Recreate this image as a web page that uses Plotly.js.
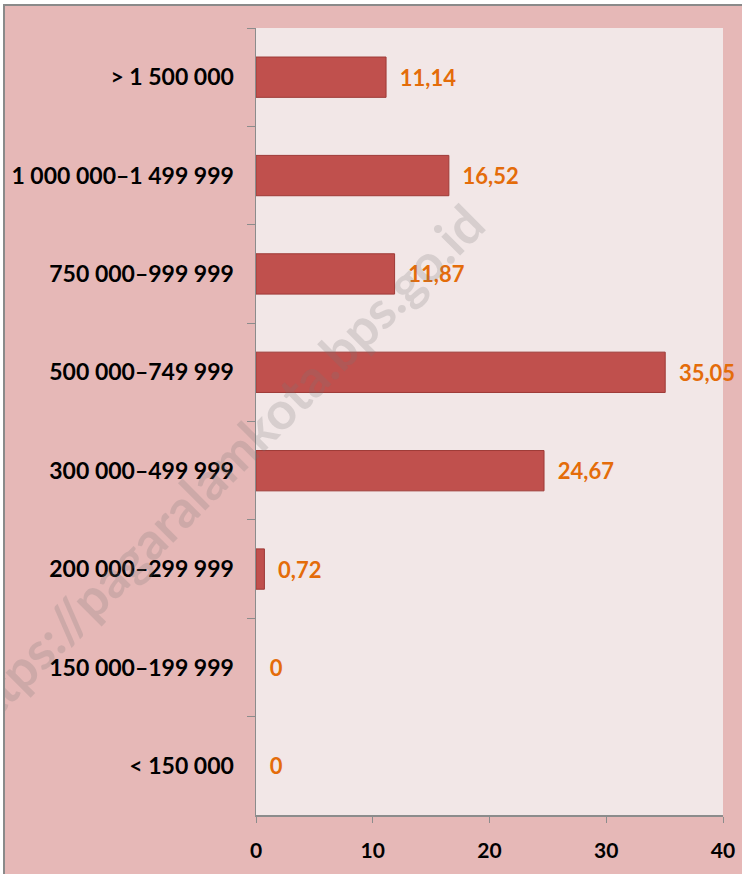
<!DOCTYPE html>
<html>
<head>
<meta charset="utf-8">
<script src="https://cdn.plot.ly/plotly-3.0.1.min.js"></script>
<style>
html,body{margin:0;padding:0;background:#ffffff;width:742px;height:874px;overflow:hidden;}
#chart{position:absolute;left:3px;top:4px;width:739px;height:870px;border-left:2px solid #8a8a8a;border-top:2px solid #8a8a8a;}
</style>
</head>
<body>
<div id="chart"></div>
<script>
var categories = ["> 1 500 000", "1 000 000\u20131 499 999", "750 000\u2013999 999", "500 000\u2013749 999", "300 000\u2013499 999", "200 000\u2013299 999", "150 000\u2013199 999", "< 150 000"];
var values = [11.14, 16.52, 11.87, 35.05, 24.67, 0.72, 0, 0];
var xTicks = [0, 10, 20, 30, 40];
var watermark = "https://pagaralamkota.bps.go.id";

var labels = values.map(function(v){ return "\u00a0\u00a0" + String(v).replace(".", ","); });
var borderWidths = values.map(function(v){ return v > 0 ? 1 : 0; });

var trace = {
  type: "bar",
  orientation: "h",
  y: categories,
  x: values,
  text: labels,
  textposition: "outside",
  constraintext: "none",
  cliponaxis: false,
  textfont: {family: "Lato, 'Open Sans', sans-serif", size: 22, color: "#E46C0A", weight: "bold"},
  marker: {color: "#C0504D", line: {color: "#9E3A37", width: borderWidths}},
  hoverinfo: "none"
};

var layout = {
  width: 737, height: 868,
  margin: {l: 251, r: 19, t: 22, b: 59},
  paper_bgcolor: "#E6B8B7",
  plot_bgcolor: "#F2E7E7",
  bargap: 0.59,
  showlegend: false,
  font: {family: "Lato, 'Open Sans', sans-serif", color: "#000000"},
  xaxis: {
    range: [0, 40],
    tickvals: xTicks,
    ticktext: xTicks.map(String),
    showgrid: false,
    zeroline: false,
    showline: true,
    linecolor: "#8c8c8c",
    linewidth: 1.5,
    ticks: "outside",
    ticklen: 6,
    tickcolor: "#8c8c8c",
    ticklabelstandoff: 10,
    tickfont: {size: 21, weight: "bold", color: "#000"},
    fixedrange: true
  },
  yaxis: {
    type: "category",
    autorange: "reversed",
    showgrid: false,
    zeroline: false,
    showline: true,
    linecolor: "#8c8c8c",
    linewidth: 1.5,
    ticks: "outside",
    tickson: "boundaries",
    ticklen: 8,
    tickcolor: "#8c8c8c",
    ticklabelstandoff: 16,
    tickfont: {size: 23, weight: "bold", color: "#000"},
    fixedrange: true
  },
  annotations: [{
    text: watermark,
    xref: "paper", yref: "paper",
    x: -0.082, y: 0.438,
    xanchor: "center", yanchor: "middle",
    showarrow: false,
    textangle: -45,
    font: {family: "Lato, sans-serif", size: 52, color: "rgba(120,120,120,0.22)", weight: "bold"}
  }]
};

Plotly.newPlot("chart", [trace], layout, {displayModeBar: false, staticPlot: true});
</script>
</body>
</html>
